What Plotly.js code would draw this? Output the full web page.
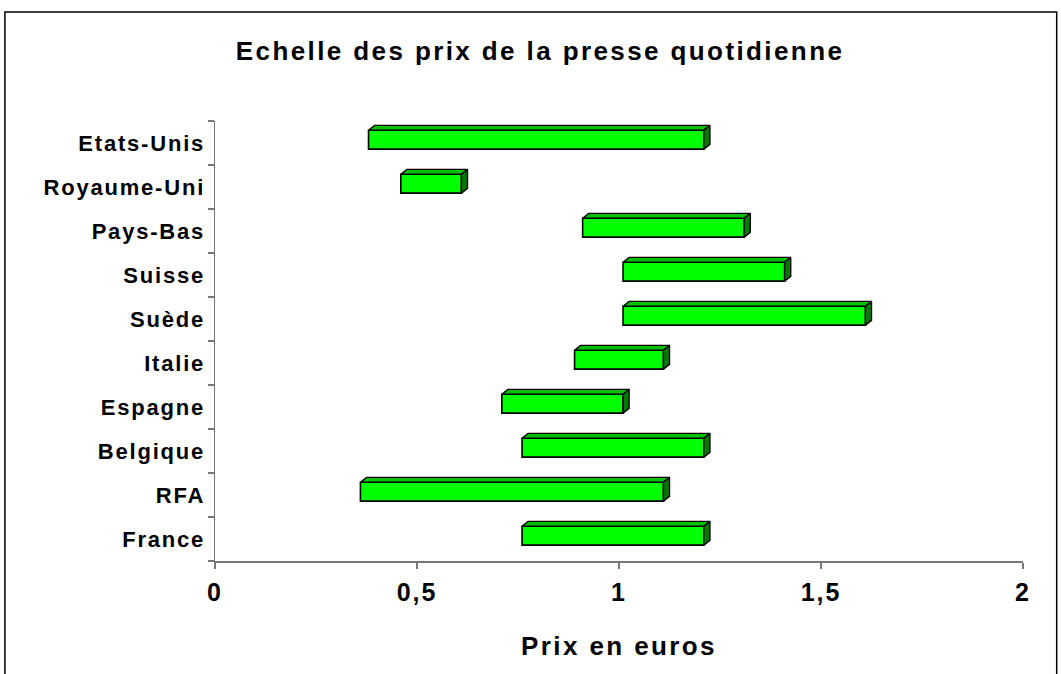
<!DOCTYPE html>
<html>
<head>
<meta charset="utf-8">
<script src="https://cdn.plot.ly/plotly-3.0.1.min.js"></script>
<style>
  html, body { margin: 0; padding: 0; background: #fff; }
  #chart { width: 1061px; height: 674px; }
  #chart .gtitle { letter-spacing: 2.4px; }
  #chart .ytick text { letter-spacing: 1.8px; }
  #chart .xtick text { letter-spacing: 2px; }
  #chart .xtitle { letter-spacing: 2.4px; }
</style>
</head>
<body>
<div id="chart"></div>
<script>
// ---- data (index 0 = bottom row of the chart) ----
const countries = ["France", "RFA", "Belgique", "Espagne", "Italie", "Suède", "Suisse", "Pays-Bas", "Royaume-Uni", "Etats-Unis"];
const priceMin  = [0.76, 0.36, 0.76, 0.71, 0.89, 1.01, 1.01, 0.91, 0.46, 0.38];
const priceMax  = [1.21, 1.11, 1.21, 1.01, 1.11, 1.61, 1.41, 1.31, 0.61, 1.21];
const xTickVals = [0, 0.5, 1, 1.5, 2];
const xTickText = ["0", "0,5", "1", "1,5", "2"];

// ---- 3D look (style constants, data units) ----
const FRONT_LO = -0.14, FRONT_HI = 0.29;   // front face, relative to category centre
const DEPTH_X = 0.015, DEPTH_Y = 0.11;      // oblique depth
const FONT = "Liberation Sans, Arial, sans-serif";

const idx = countries.map((_, i) => i);

const front = {
  type: "bar", orientation: "h",
  y: idx, base: priceMin,
  x: priceMin.map((v, i) => priceMax[i] - v),
  width: FRONT_HI - FRONT_LO, offset: FRONT_LO,
  marker: { color: "#00FF00", line: { color: "#000", width: 1.6 } },
  hoverinfo: "skip", showlegend: false
};

const topX = [], topY = [], sideX = [], sideY = [];
idx.forEach(i => {
  const lo = priceMin[i], hi = priceMax[i];
  const yt = i + FRONT_HI, yb = i + FRONT_LO;
  topX.push(lo, lo + DEPTH_X, hi + DEPTH_X, hi, lo, null);
  topY.push(yt, yt + DEPTH_Y, yt + DEPTH_Y, yt, yt, null);
  sideX.push(hi, hi + DEPTH_X, hi + DEPTH_X, hi, hi, null);
  sideY.push(yt, yt + DEPTH_Y, yb + DEPTH_Y, yb, yt, null);
});

const topFace = {
  type: "scatter", mode: "lines", x: topX, y: topY, fill: "toself",
  fillcolor: "#00C000", line: { color: "#000", width: 1.4 },
  hoverinfo: "skip", showlegend: false
};
const sideFace = {
  type: "scatter", mode: "lines", x: sideX, y: sideY, fill: "toself",
  fillcolor: "#007A00", line: { color: "#000", width: 1.4 },
  hoverinfo: "skip", showlegend: false
};

const layout = {
  width: 1061, height: 674,
  paper_bgcolor: "#fff", plot_bgcolor: "#fff",
  margin: { l: 215, r: 38, t: 121, b: 113 },
  showlegend: false,
  title: {
    text: "Echelle des prix de la presse quotidienne",
    font: { family: FONT, size: 26, color: "#000", weight: "bold" },
    x: 0.509, xref: "container", xanchor: "center",
    y: 0.925, yref: "container", yanchor: "middle"
  },
  xaxis: {
    range: [0, 2], fixedrange: true,
    tickmode: "array", tickvals: xTickVals, ticktext: xTickText,
    ticks: "outside", ticklen: 6, tickwidth: 1.5, tickcolor: "#777",
    ticklabelstandoff: 2,
    showline: true, linecolor: "#777", linewidth: 1.5,
    showgrid: false, zeroline: false,
    tickfont: { family: FONT, size: 25, color: "#000", weight: "bold" },
    title: { text: "Prix en euros", standoff: 32,
             font: { family: FONT, size: 26, color: "#000", weight: "bold" } }
  },
  yaxis: {
    range: [-0.5, 9.5], fixedrange: true,
    tickmode: "array", tickvals: idx, ticktext: countries,
    ticks: "", ticklabelstandoff: 4,
    minor: { tickmode: "linear", tick0: -0.5, dtick: 1, ticks: "outside",
             ticklen: 6, tickwidth: 1.5, tickcolor: "#777", showgrid: false },
    showline: true, linecolor: "#777", linewidth: 1.5,
    showgrid: false, zeroline: false,
    tickfont: { family: FONT, size: 22, color: "#000", weight: "bold" }
  },
  shapes: [{
    type: "path", xref: "paper", yref: "paper",
    path: "M -0.26 -0.4 L -0.26 1.2477 L 1.0417 1.2477 L 1.0417 -0.4",
    line: { color: "#000", width: 1.5 }
  }]
};

Plotly.newPlot("chart", [front, topFace, sideFace], layout, { staticPlot: true, displayModeBar: false });
</script>
</body>
</html>
